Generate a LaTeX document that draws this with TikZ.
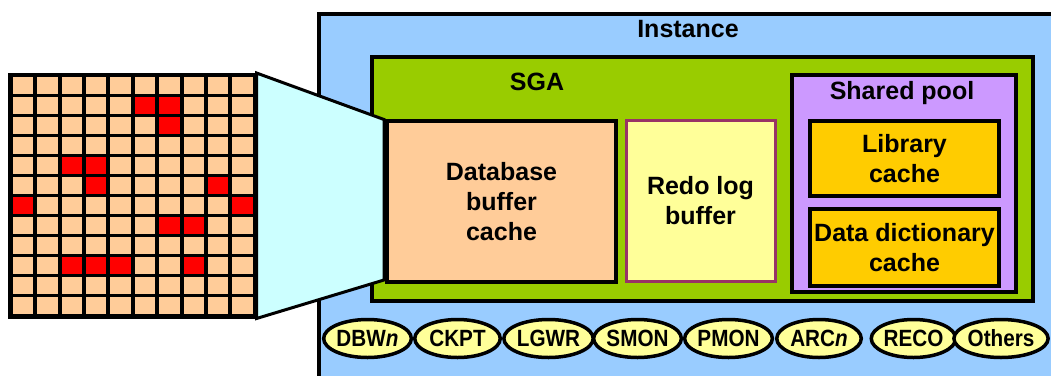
\documentclass[tikz,border=0pt]{standalone}
\usepackage{fontspec}
\setmainfont{Liberation Sans}
\newfontfamily\ellfont[FakeStretch=0.88]{Liberation Sans}
\usetikzlibrary{shapes.geometric}
\definecolor{instblue}{HTML}{99CCFF}
\definecolor{sgagreen}{HTML}{99CC00}
\definecolor{peach}{HTML}{FFCC99}
\definecolor{redofill}{HTML}{FFFF99}
\definecolor{redoborder}{HTML}{993366}
\definecolor{sharedfill}{HTML}{CC99FF}
\definecolor{libfill}{HTML}{FFCC00}
\definecolor{cyanl}{HTML}{CCFFFF}
\definecolor{ellfill}{HTML}{FFFF99}
\definecolor{hotred}{HTML}{FF0000}
\begin{document}
\begin{tikzpicture}[x=1pt,y=-1pt,
  box/.style={draw, line width=4pt, rectangle, inner sep=0pt, anchor=north west,
    align=center, font=\fontsize{25}{30}\selectfont\bfseries},
  lbl/.style={anchor=base, inner sep=0pt, font=\fontsize{25}{30}\selectfont\bfseries},
  proc/.style={ellipse, draw, line width=3.5pt, fill=ellfill, minimum height=38pt,
    inner sep=0pt, font=\ellfont\fontsize{23.5}{26}\selectfont\bfseries},
  cellbox/.style={fill=peach},
  hotcell/.style={fill=hotred}]
\useasboundingbox (0,0) rectangle (1051,375);
\clip (0,0) rectangle (1051,375);
% Instance
\node[box, fill=instblue, minimum width=743pt, minimum height=368pt] (inst) at (317,12) {};
\node[lbl] (instlbl) at (688,37.3) {Instance};
% SGA
\node[box, fill=sgagreen, minimum width=661pt, minimum height=244pt] (sga) at (370,55) {};
\node[lbl] (sgalbl) at (537,90) {SGA};
% grid
\node[fill=black, draw=black, line width=0.5pt, anchor=north west, inner sep=0pt,
  minimum width=248pt, minimum height=245pt] (grid) at (8,73) {};
\foreach \i in {0,...,9}{
  \foreach \j in {0,...,11}{
    \fill[cellbox] ({12.7+24.4*\i},{76.7+20.05*\j}) rectangle ++(20.5,17);
  }
}
\foreach \i/\j in {5/1,6/1,6/2,2/4,3/4,3/5,8/5,0/6,9/6,6/7,7/7,2/9,3/9,4/9,7/9}{
  \fill[hotcell] ({12.7+24.4*\i},{76.7+20.05*\j}) rectangle ++(20.5,17);
}
% database buffer cache and zoom trapezoid
\coordinate (dbnw) at (384,119.5);
\coordinate (dbsw) at (384,280);
\draw[fill=cyanl, line width=3pt, line join=miter] (grid.north east) -- (dbnw) -- (dbsw) -- (grid.south east) -- cycle;
\node[box, fill=peach, minimum width=229pt, minimum height=161pt] (db) at (385,119) {Database\\buffer\\cache};
% redo log buffer
\node[box, fill=redofill, draw=redoborder, line width=3pt, minimum width=149pt, minimum height=161.5pt] (redo) at (624.5,118.5) {Redo log\\buffer};
% shared pool
\node[box, fill=sharedfill, minimum width=223.5pt, minimum height=217.3pt] (shared) at (790,72.7) {};
\node[lbl] (sharedlbl) at (902,99.3) {Shared pool};
\node[box, fill=libfill, minimum width=189pt, minimum height=75pt] (lib) at (808,119) {Library\\cache};
\node[box, fill=libfill, minimum width=189pt, minimum height=76.5pt] (dd) at (808,207) {Data dictionary\\cache};
% background processes
\node[proc, minimum width=85.5pt] (dbwn) at (367.5,338.5) {DBW\textit{n}};
\node[proc, minimum width=85.5pt] (ckpt) at (457.5,338.5) {CKPT};
\node[proc, minimum width=83.5pt] (lgwr) at (548.5,338.5) {LGWR};
\node[proc, minimum width=81.5pt] (smon) at (637.5,338.5) {SMON};
\node[proc, minimum width=83.5pt] (pmon) at (728.5,338.5) {PMON};
\node[proc, minimum width=84.5pt] (arcn) at (819,338.5) {ARC\textit{n}};
\node[proc, minimum width=83.5pt] (reco) at (913.5,338.5) {RECO};
\node[proc, minimum width=78.5pt] (others) at (1001,338.5) {Others};
\end{tikzpicture}
\end{document}
